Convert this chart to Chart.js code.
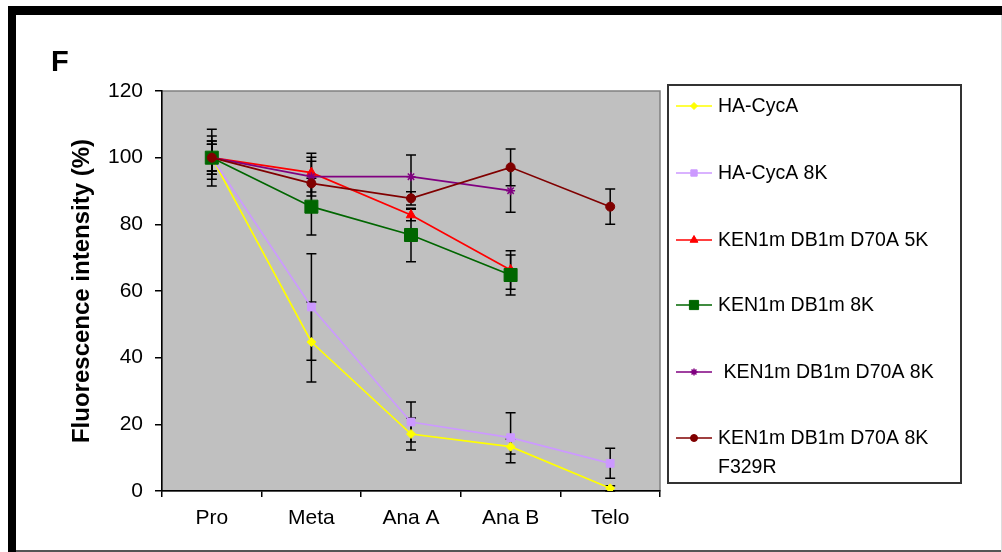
<!DOCTYPE html>
<html>
<head>
<meta charset="utf-8">
<script src="https://cdn.jsdelivr.net/npm/chart.js@4/dist/chart.umd.min.js"></script>
<style>
  html, body { margin: 0; padding: 0; background: #fff; }
  #wrap { position: relative; width: 1002px; height: 552px; }
</style>
</head>
<body>
<div id="wrap"><canvas id="c" width="1002" height="552"></canvas></div>
<script>
// ---- data ----
const categories = ['Pro', 'Meta', 'Ana A', 'Ana B', 'Telo'];
const seriesNames = ['HA-CycA', 'HA-CycA 8K', 'KEN1m DB1m D70A 5K', 'KEN1m DB1m 8K', ' KEN1m DB1m D70A 8K', 'KEN1m DB1m D70A 8K|F329R'];

const haCycA        = [100, 44.7, 17.1, 13.3, 0.8];
const haCycAErr     = [4, 12, 4.8, 2.2, 0.8];
const haCycA8K      = [100, 55.2, 20.7, 16, 8.3];
const haCycA8KErr   = [5, 16, 6, 7.5, 4.5];
const ken5K         = [100, 95.5, 82.8, 66.3, null];
const ken5KErr      = [6.5, 5.8, 1.7, 5.8, null];
const ken8K         = [100, 85.3, 76.8, 64.8, null];
const ken8KErr      = [4, 8.5, 8, 6, null];
const kenD70A8K     = [100, 94.3, 94.3, 90.1, null];
const kenD70A8KErr  = [8.5, 5.8, 6.5, 6.5, null];
const kenF329R      = [100, 92.3, 87.8, 97.1, 85.3];
const kenF329RErr   = [5, 6.6, 2, 5.5, 5.3];

const yTicks = [0, 20, 40, 60, 80, 100, 120];
const yAxisTitle = 'Fluorescence intensity (%)';
const panelLabel = 'F';

// ---- styles ----
const FONT = "'Liberation Sans', Arial, sans-serif";
const styles = [
  { color: '#FFFF00', style: 'rectRot',  r: 4.5, lr: 3.5 },
  { color: '#CC99FF', style: 'rect',     r: 5.5, lr: 4.5 },
  { color: '#FF0000', style: 'triangle', r: 5.5, lr: 4.5 },
  { color: '#006600', style: 'rect',     r: 9.2, lr: 6.5 },
  { color: '#800080', style: 'star',     r: 4.5, lr: 3.5 },
  { color: '#800000', style: 'circle',   r: 4.5, lr: 3.5 }
];
const values = [haCycA, haCycA8K, ken5K, ken8K, kenD70A8K, kenF329R];
const errors = [haCycAErr, haCycA8KErr, ken5KErr, ken8KErr, kenD70A8KErr, kenF329RErr];

const datasets = values.map((v, i) => ({
  label: seriesNames[i].replace('|', ' '),
  data: v,
  errors: errors[i],
  borderColor: styles[i].color,
  backgroundColor: styles[i].color,
  pointBackgroundColor: styles[i].color,
  pointBorderColor: styles[i].color,
  pointStyle: styles[i].style,
  pointRadius: styles[i].r,
  pointHoverRadius: styles[i].r,
  pointBorderWidth: styles[i].style === 'star' ? 1.5 : 1,
  borderWidth: 1.7,
  tension: 0,
  fill: false,
  order: values.length - 1 - i
}));

const framePlugin = {
  id: 'frame',
  beforeDraw(chart) {
    const ctx = chart.ctx;
    const a = chart.chartArea;
    ctx.save();
    ctx.fillStyle = '#fff';
    ctx.fillRect(0, 0, chart.width, chart.height);
    // outer frame
    ctx.fillStyle = '#000';
    ctx.fillRect(8, 6, 994, 9);
    ctx.fillRect(8, 6, 8, 546);
    ctx.fillStyle = '#555';
    ctx.fillRect(16, 550, 986, 2);
    ctx.fillStyle = '#ddd';
    ctx.fillRect(1001, 15, 1, 537);
    // plot area
    ctx.fillStyle = '#C0C0C0';
    ctx.fillRect(a.left, a.top, a.right - a.left, a.bottom - a.top);
    ctx.strokeStyle = '#808080';
    ctx.lineWidth = 1.5;
    ctx.strokeRect(a.left, a.top, a.right - a.left, a.bottom - a.top);
    // panel label
    ctx.fillStyle = '#000';
    ctx.font = 'bold 29px ' + FONT;
    ctx.textBaseline = 'alphabetic';
    ctx.textAlign = 'left';
    ctx.fillText(panelLabel, 51, 71);
    ctx.restore();
  }
};

const errorBarPlugin = {
  id: 'errorBars',
  beforeDatasetsDraw(chart) {
    const ctx = chart.ctx;
    const xs = chart.scales.x, ys = chart.scales.y;
    ctx.save();
    ctx.strokeStyle = '#000';
    ctx.lineWidth = 1.5;
    chart.data.datasets.forEach(ds => {
      ds.data.forEach((v, j) => {
        const e = ds.errors[j];
        if (v == null || e == null) return;
        const x = xs.getPixelForValue(j);
        const y1 = ys.getPixelForValue(v + e);
        const y2 = ys.getPixelForValue(v - e);
        ctx.beginPath();
        ctx.moveTo(x, y1); ctx.lineTo(x, y2);
        ctx.moveTo(x - 5, y1); ctx.lineTo(x + 5, y1);
        ctx.moveTo(x - 5, y2); ctx.lineTo(x + 5, y2);
        ctx.stroke();
      });
    });
    ctx.restore();
  }
};

const legendPlugin = {
  id: 'customLegend',
  afterDraw(chart) {
    const ctx = chart.ctx;
    const box = { x: 668, y: 85, w: 293, h: 398 };
    const rowY = [106, 173, 240, 305, 372, 438];
    ctx.save();
    ctx.strokeStyle = '#333';
    ctx.lineWidth = 2;
    ctx.strokeRect(box.x, box.y, box.w, box.h);
    ctx.font = '19.5px ' + FONT;
    ctx.textBaseline = 'middle';
    ctx.textAlign = 'left';
    seriesNames.forEach((name, i) => {
      const y = rowY[i];
      const s = styles[i];
      ctx.strokeStyle = s.color;
      ctx.lineWidth = 1.7;
      ctx.beginPath();
      ctx.moveTo(676, y); ctx.lineTo(712, y);
      ctx.stroke();
      ctx.fillStyle = s.color;
      ctx.strokeStyle = s.color;
      ctx.lineWidth = s.style === 'star' ? 1.5 : 1;
      Chart.helpers.drawPoint(ctx, { pointStyle: s.style, rotation: 0, radius: s.lr, borderWidth: ctx.lineWidth }, 694, y);
      ctx.fillStyle = '#000';
      const lines = name.split('|');
      lines.forEach((ln, k) => ctx.fillText(ln, 718, y + 1 + k * 29));
    });
    ctx.restore();
  }
};

new Chart(document.getElementById('c'), {
  type: 'line',
  data: { labels: categories, datasets },
  plugins: [framePlugin, errorBarPlugin, legendPlugin],
  options: {
    responsive: false,
    animation: false,
    events: [],
    layout: { padding: { top: 91, right: 342, left: 0, bottom: 0 } },
    plugins: { legend: { display: false }, tooltip: { enabled: false } },
    scales: {
      x: {
        type: 'category',
        offset: true,
        grid: { offset: true, drawOnChartArea: false, color: '#000', tickLength: 6, lineWidth: 1.5 },
        border: { color: '#000', width: 1.5 },
        ticks: { color: '#000', font: { family: FONT, size: 21 }, padding: 9, maxRotation: 0 },
        afterFit(s) { s.height = 61; }
      },
      y: {
        min: 0, max: 120,
        afterBuildTicks(s) { s.ticks = yTicks.map(v => ({ value: v })); },
        grid: { drawOnChartArea: false, color: '#000', tickLength: 7, lineWidth: 1.5 },
        border: { color: '#000', width: 1.5 },
        ticks: { color: '#000', font: { family: FONT, size: 21 }, padding: 12 },
        title: { display: true, text: yAxisTitle, color: '#000', font: { family: FONT, size: 24, weight: 'bold' }, padding: { top: 67.6, bottom: 0 } },
        afterFit(s) { s.width = 162; }
      }
    }
  }
});
</script>
</body>
</html>
